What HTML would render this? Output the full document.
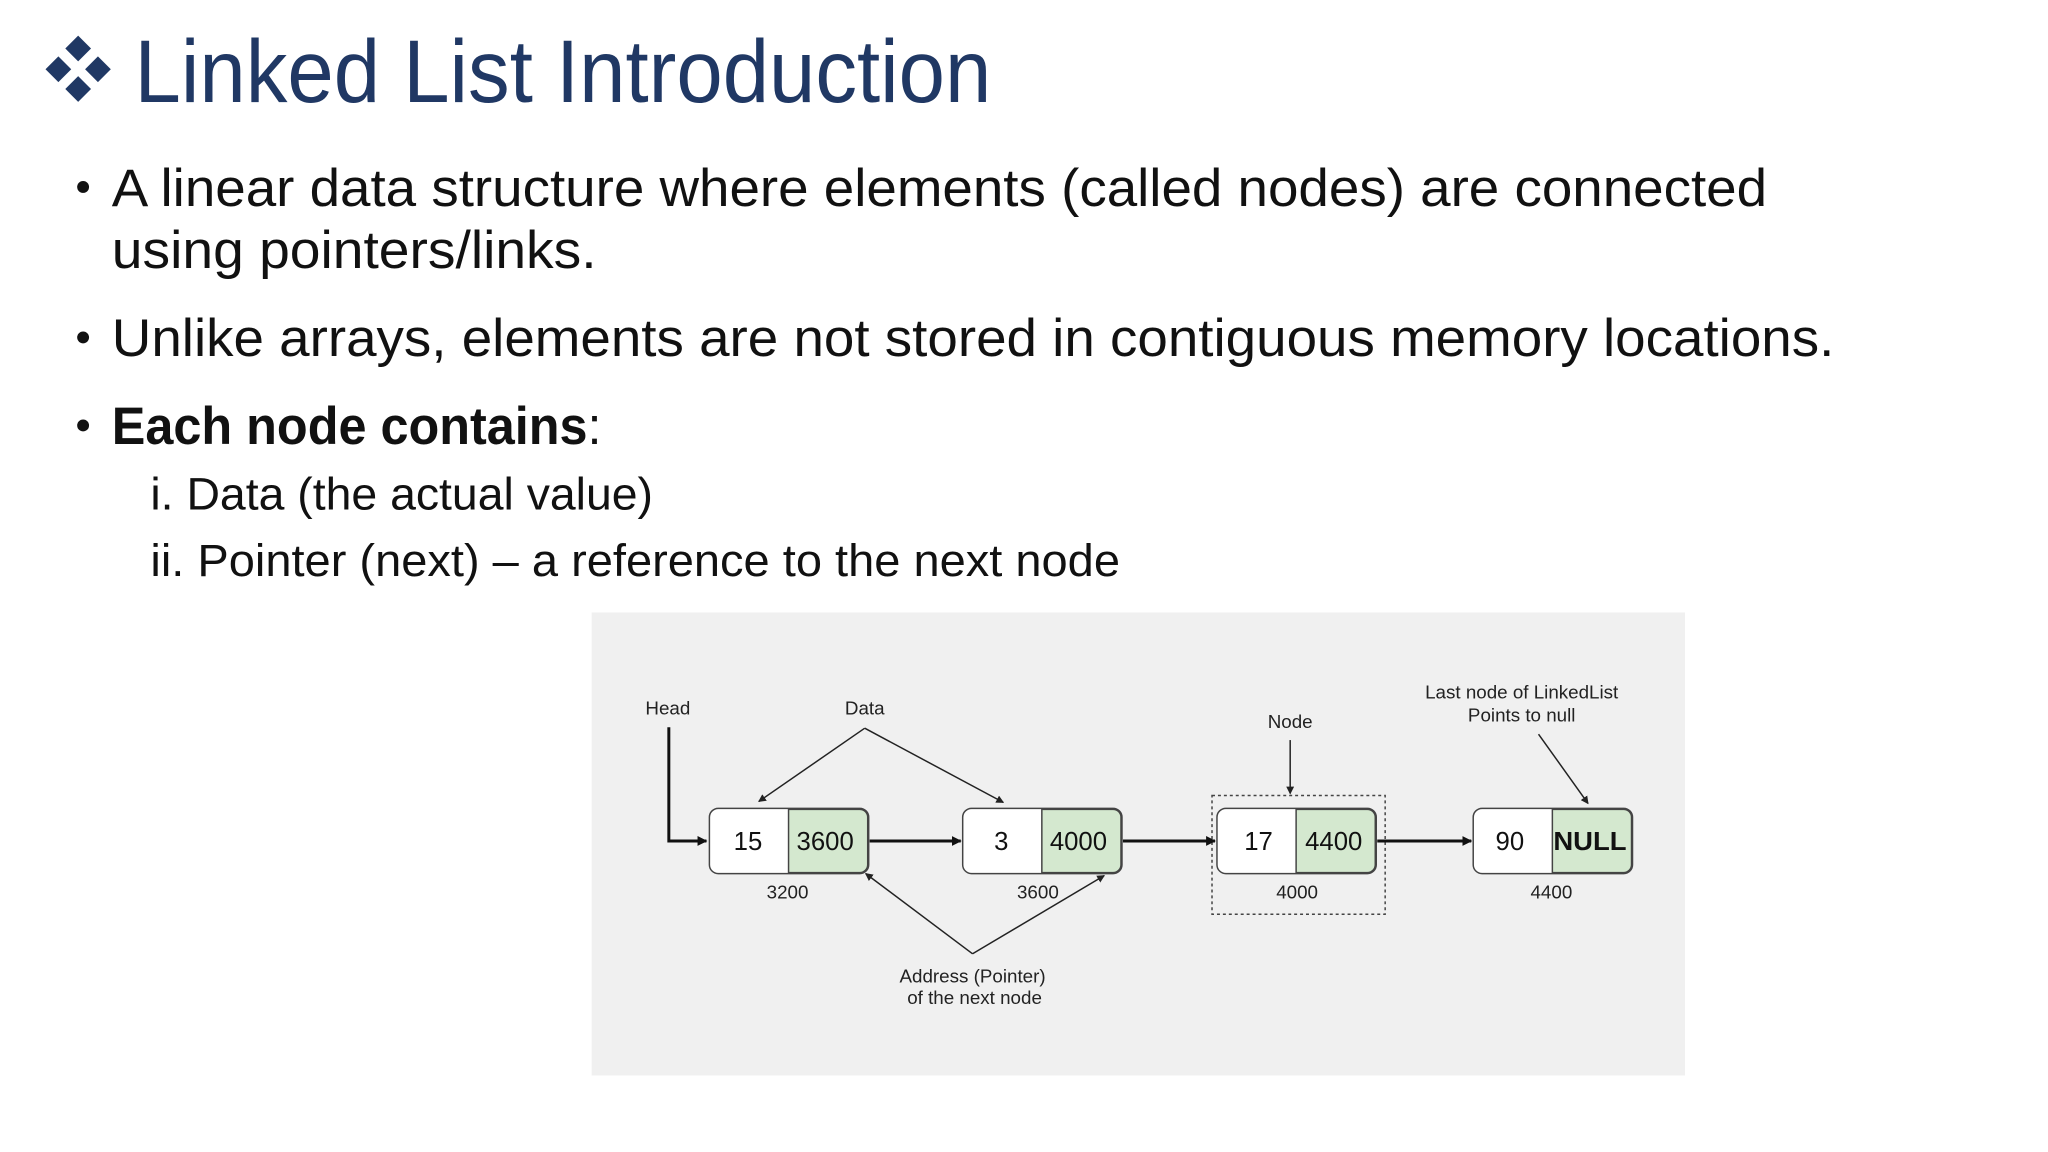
<!DOCTYPE html>
<html><head><meta charset="utf-8"><style>html,body{margin:0;padding:0;background:#fff}svg{display:block}</style></head>
<body>
<svg width="2048" height="1152" viewBox="0 0 2048 1152" xmlns="http://www.w3.org/2000/svg" font-family="Liberation Sans, sans-serif">
<defs>
<marker id="ah" markerWidth="10" markerHeight="10" refX="9" refY="5" orient="auto" markerUnits="userSpaceOnUse"><path d="M0,0 L10,5 L0,10 z" fill="#111"/></marker>
<marker id="as" markerWidth="8" markerHeight="8" refX="7" refY="4" orient="auto" markerUnits="userSpaceOnUse"><path d="M0,0 L8,4 L0,8 z" fill="#222"/></marker>
</defs>
<g transform="scale(0.9894)">
<g fill="#203864">
<path d="M79,36 L92,49 L79,62 L66,49z"/>
<path d="M59,57 L72,70 L59,83 L46,70z"/>
<path d="M99,57 L112,70 L99,83 L86,70z"/>
<path d="M79,77 L92,90 L79,103 L66,90z"/>
</g>
<text x="136" y="103" font-size="90" fill="#203864" textLength="866" lengthAdjust="spacingAndGlyphs">Linked List Introduction</text>
<g fill="#111" font-size="53">
<circle cx="84" cy="189" r="6"/>
<text x="113" y="208" textLength="1673" lengthAdjust="spacingAndGlyphs">A linear data structure where elements (called nodes) are connected</text>
<text x="113" y="271" textLength="490" lengthAdjust="spacingAndGlyphs">using pointers/links.</text>
<circle cx="84" cy="341" r="6"/>
<text x="113" y="360" textLength="1741" lengthAdjust="spacingAndGlyphs">Unlike arrays, elements are not stored in contiguous memory locations.</text>
<circle cx="84" cy="430" r="6"/>
<text x="113" y="449" textLength="495" lengthAdjust="spacingAndGlyphs"><tspan font-weight="bold">Each node contains</tspan>:</text>
<text x="152" y="515" font-size="46" textLength="508" lengthAdjust="spacingAndGlyphs">i. Data (the actual value)</text>
<text x="152" y="582" font-size="46" textLength="980" lengthAdjust="spacingAndGlyphs">ii. Pointer (next) – a reference to the next node</text>
</g>
<rect x="598" y="619" width="1105" height="468" fill="#f0f0f0"/>
<g font-size="19" fill="#222" text-anchor="middle">
<text x="675" y="722">Head</text>
<text x="874" y="722">Data</text>
<text x="1304" y="736">Node</text>
<text x="1538" y="706">Last node of LinkedList</text>
<text x="1538" y="729">Points to null</text>
<text x="983" y="993">Address (Pointer)</text>
<text x="985" y="1015">of the next node</text>
<text x="796" y="908">3200</text>
<text x="1049" y="908">3600</text>
<text x="1311" y="908">4000</text>
<text x="1568" y="908">4400</text>
</g>
<rect x="1225" y="804" width="175" height="120" fill="none" stroke="#444" stroke-width="1.5" stroke-dasharray="3,3"/>
<g stroke="#444" stroke-width="1.5">
<rect x="717" y="817" width="161" height="66" rx="9" fill="#fff"/>
<path d="M797,818 H869 a8,8 0 0 1 8,8 V874 a8,8 0 0 1 -8,8 H797z" fill="#d4e8cf"/>
<rect x="973" y="817" width="161" height="66" rx="9" fill="#fff"/>
<path d="M1053,818 H1125 a8,8 0 0 1 8,8 V874 a8,8 0 0 1 -8,8 H1053z" fill="#d4e8cf"/>
<rect x="1230" y="817" width="161" height="66" rx="9" fill="#fff"/>
<path d="M1310,818 H1382 a8,8 0 0 1 8,8 V874 a8,8 0 0 1 -8,8 H1310z" fill="#d4e8cf"/>
<rect x="1489" y="817" width="161" height="66" rx="9" fill="#fff"/>
<path d="M1569,818 H1641 a8,8 0 0 1 8,8 V874 a8,8 0 0 1 -8,8 H1569z" fill="#d4e8cf"/>
</g>
<g font-size="26" fill="#111" text-anchor="middle">
<text x="756" y="859">15</text><text x="834" y="859">3600</text>
<text x="1012" y="859">3</text><text x="1090" y="859">4000</text>
<text x="1272" y="859">17</text><text x="1348" y="859">4400</text>
<text x="1526" y="859">90</text><text x="1607" y="859" font-weight="bold" textLength="74" lengthAdjust="spacingAndGlyphs">NULL</text>
</g>
<g fill="none" stroke="#111" stroke-width="3">
<path d="M676,735 V850 H714" marker-end="url(#ah)"/>
<path d="M879,850 H971" marker-end="url(#ah)"/>
<path d="M1135,850 H1228" marker-end="url(#ah)"/>
<path d="M1392,850 H1487" marker-end="url(#ah)"/>
</g>
<g fill="none" stroke="#222" stroke-width="1.5">
<path d="M874,736 L767,810" marker-end="url(#as)"/>
<path d="M874,736 L1014,811" marker-end="url(#as)"/>
<path d="M1304,748 V802" marker-end="url(#as)"/>
<path d="M1555,742 L1605,812" marker-end="url(#as)"/>
<path d="M983,964 L875,883" marker-end="url(#as)"/>
<path d="M983,964 L1116,885" marker-end="url(#as)"/>
</g>
</g>
</svg>
</body></html>
